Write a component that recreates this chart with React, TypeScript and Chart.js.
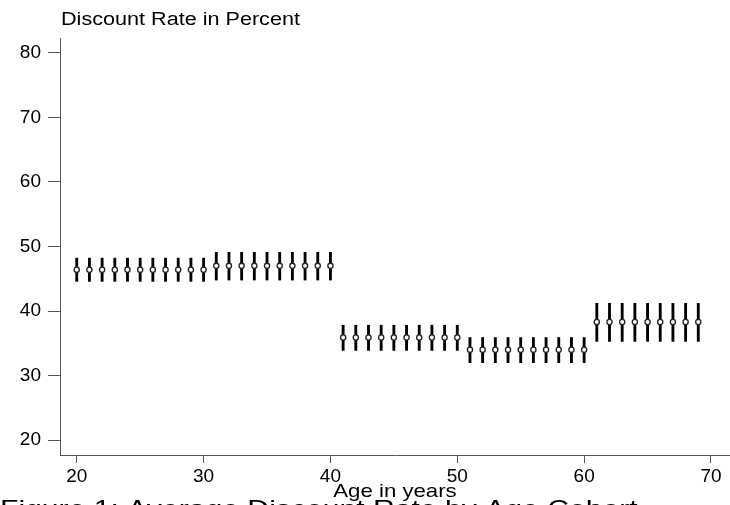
import React, { useEffect, useRef } from "react";
import { Chart, registerables } from "chart.js";

Chart.register(...registerables);

const ages = [
  20, 21, 22, 23, 24, 25, 26, 27, 28, 29, 30,
  31, 32, 33, 34, 35, 36, 37, 38, 39, 40,
  41, 42, 43, 44, 45, 46, 47, 48, 49, 50,
  51, 52, 53, 54, 55, 56, 57, 58, 59, 60,
  61, 62, 63, 64, 65, 66, 67, 68, 69,
];
const means = [
  46.4, 46.4, 46.4, 46.4, 46.4, 46.4, 46.4, 46.4, 46.4, 46.4, 46.4,
  47.0, 47.0, 47.0, 47.0, 47.0, 47.0, 47.0, 47.0, 47.0, 47.0,
  35.9, 35.9, 35.9, 35.9, 35.9, 35.9, 35.9, 35.9, 35.9, 35.9,
  34.0, 34.0, 34.0, 34.0, 34.0, 34.0, 34.0, 34.0, 34.0, 34.0,
  38.3, 38.3, 38.3, 38.3, 38.3, 38.3, 38.3, 38.3, 38.3,
];
const lower = [
  44.6, 44.6, 44.6, 44.6, 44.6, 44.6, 44.6, 44.6, 44.6, 44.6, 44.6,
  44.8, 44.8, 44.8, 44.8, 44.8, 44.8, 44.8, 44.8, 44.8, 44.8,
  33.9, 33.9, 33.9, 33.9, 33.9, 33.9, 33.9, 33.9, 33.9, 33.9,
  32.0, 32.0, 32.0, 32.0, 32.0, 32.0, 32.0, 32.0, 32.0, 32.0,
  35.3, 35.3, 35.3, 35.3, 35.3, 35.3, 35.3, 35.3, 35.3,
];
const upper = [
  48.2, 48.2, 48.2, 48.2, 48.2, 48.2, 48.2, 48.2, 48.2, 48.2, 48.2,
  49.1, 49.1, 49.1, 49.1, 49.1, 49.1, 49.1, 49.1, 49.1, 49.1,
  37.8, 37.8, 37.8, 37.8, 37.8, 37.8, 37.8, 37.8, 37.8, 37.8,
  35.9, 35.9, 35.9, 35.9, 35.9, 35.9, 35.9, 35.9, 35.9, 35.9,
  41.2, 41.2, 41.2, 41.2, 41.2, 41.2, 41.2, 41.2, 41.2,
];
const xTicks = [20, 30, 40, 50, 60, 70];
const yTicks = [20, 30, 40, 50, 60, 70, 80];
const titleText = "Discount Rate in Percent";
const xTitleText = "Age in years";
const captionText = "Figure 1: Average Discount Rate by Age Cohort";

const FONT = '"Liberation Sans", Arial, sans-serif';

function drawStretched(
  ctx: CanvasRenderingContext2D,
  text: string,
  x: number,
  y: number,
  size: number,
  sx: number,
  align: CanvasTextAlign
) {
  ctx.save();
  ctx.translate(x, y);
  ctx.scale(sx, 1);
  ctx.font = `${size}px ${FONT}`;
  ctx.textAlign = align;
  ctx.textBaseline = "alphabetic";
  ctx.fillStyle = "#000";
  ctx.fillText(text, 0, 0);
  ctx.restore();
}

export default function App() {
  const ref = useRef<HTMLCanvasElement>(null);

  useEffect(() => {
    if (!ref.current) return;
    const textPlugin = {
      id: "texts",
      afterDraw(chart: any) {
        const ctx = chart.ctx as CanvasRenderingContext2D;
        const area = chart.chartArea;
        drawStretched(ctx, titleText, area.left + 1, 25, 18, 1.2, "left");
        drawStretched(ctx, xTitleText, (area.left + area.right) / 2, 496.5, 18.5, 1.2, "center");
        drawStretched(ctx, captionText, 0, 517, 24.5, 1.23, "left");
      },
    };

    const chart = new Chart(ref.current, {
      type: "bar",
      data: {
        datasets: [
          {
            type: "scatter",
            data: ages.map((a, i) => ({ x: a, y: means[i] })),
            pointRadius: 2.6,
            pointBorderWidth: 1.3,
            pointBackgroundColor: "#fff",
            pointBorderColor: "#222",
            order: 0,
          } as any,
          {
            type: "bar",
            data: ages.map((a, i) => ({ x: a, y: [lower[i], upper[i]] })),
            backgroundColor: "#000",
            borderWidth: 0,
            barThickness: 2.2,
            order: 1,
          } as any,
        ],
      },
      options: {
        responsive: false,
        animation: false,
        devicePixelRatio: 1,
        layout: { autoPadding: false, padding: { top: 38, left: 0, right: 0, bottom: 0 } },
        plugins: {
          legend: { display: false },
          tooltip: { enabled: false },
          title: { display: false },
        },
        scales: {
          x: {
            type: "linear",
            offset: false,
            min: 18.68,
            max: 71.5,
            afterBuildTicks: (s: any) => {
              s.ticks = xTicks.map((v) => ({ value: v }));
            },
            afterFit: (s: any) => {
              s.height = 50;
              s.paddingLeft = 0;
              s.paddingRight = 0;
            },
            grid: { offset: false, drawOnChartArea: false, drawTicks: true, tickLength: 8, color: "#555", lineWidth: 1 },
            border: { display: true, color: "#555", width: 1 },
            ticks: {
              font: { family: FONT, size: 19 },
              color: "#000",
              padding: 2,
              maxRotation: 0,
              autoSkip: false,
            },
          },
          y: {
            type: "linear",
            min: 17.7,
            max: 82.3,
            afterBuildTicks: (s: any) => {
              s.ticks = yTicks.map((v) => ({ value: v }));
            },
            afterFit: (s: any) => {
              s.width = 60;
              s.paddingTop = 0;
              s.paddingBottom = 0;
            },
            grid: { drawOnChartArea: false, drawTicks: true, tickLength: 12, color: "#555", lineWidth: 1 },
            border: { display: true, color: "#555", width: 1 },
            ticks: {
              font: { family: FONT, size: 19 },
              color: "#000",
              padding: 7,
              autoSkip: false,
            },
          },
        },
      } as any,
      plugins: [textPlugin],
    });
    return () => chart.destroy();
  }, []);

  return (
    <div style={{ position: "absolute", left: 0, top: 0, width: 730, height: 505, background: "#fff", overflow: "hidden" }}>
      <canvas ref={ref} width={730} height={505} style={{ display: "block" }} />
    </div>
  );
}
